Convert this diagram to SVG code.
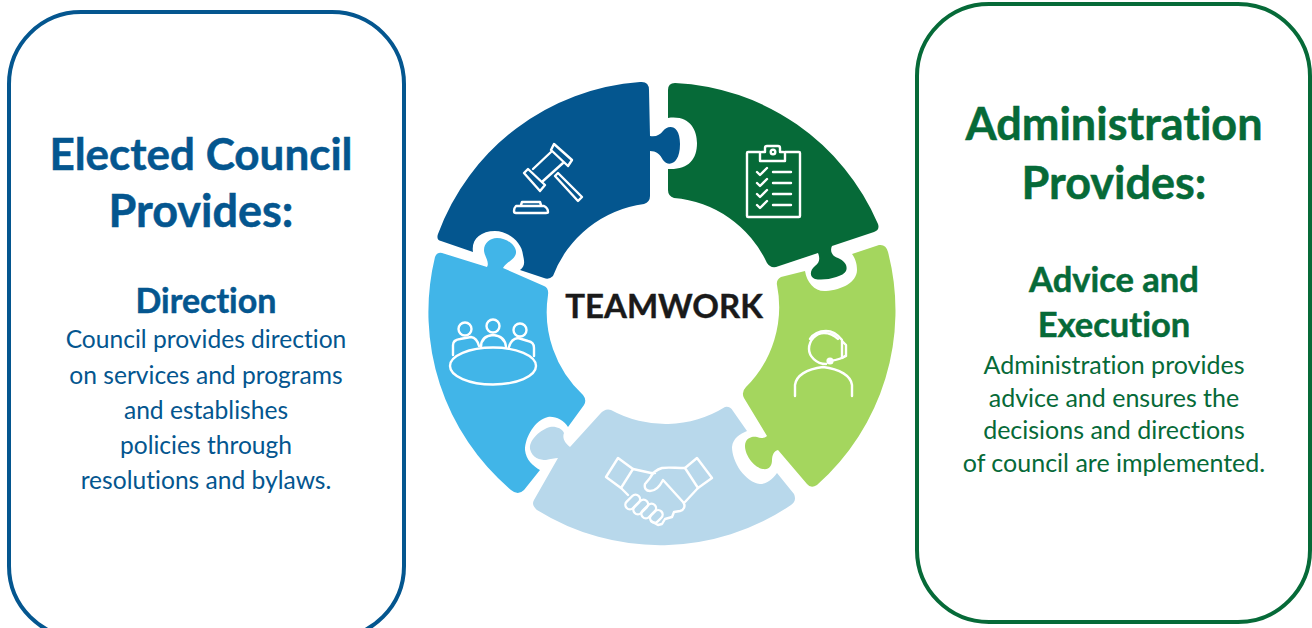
<svg xmlns="http://www.w3.org/2000/svg" width="1312" height="628" viewBox="0 0 1312 628">
<style>
.t{font-family:"Lato","Carlito","Liberation Sans",sans-serif;text-anchor:middle;font-variant-ligatures:none}
.b{font-weight:700;stroke-width:.5}
.bl{fill:#04568f}.gr{fill:#066a38}
.b.bl{stroke:#04568f}.b.gr{stroke:#066a38}
.box{fill:#fff;stroke-width:4}
.ic{fill:none;stroke:#fff;stroke-width:2.4;stroke-linejoin:round;stroke-linecap:round}
</style>
<rect width="1312" height="628" fill="#fff"/>
<g id="council">
<rect class="box" x="9" y="12" width="395" height="626" rx="72" stroke="#04568f"/>
<text class="t b bl" x="201" y="170" font-size="44">Elected Council</text>
<text class="t b bl" x="201" y="227" font-size="45">Provides:</text>
<text class="t b bl" x="206" y="313" font-size="34">Direction</text>
<g class="t bl" font-size="24.6">
<text x="206" y="348">Council provides direction</text>
<text x="206" y="384">on services and programs</text>
<text x="206" y="419">and establishes</text>
<text x="206" y="454">policies through</text>
<text x="206" y="489">resolutions and bylaws.</text>
</g>
</g>
<g id="administration">
<rect class="box" x="917" y="4" width="393" height="618" rx="72" stroke="#066a38"/>
<text class="t b gr" x="1114" y="140" font-size="45">Administration</text>
<text class="t b gr" x="1114" y="199" font-size="45">Provides:</text>
<text class="t b gr" x="1114" y="292" font-size="34.5">Advice and</text>
<text class="t b gr" x="1114" y="337" font-size="34.5">Execution</text>
<g class="t gr" font-size="25">
<text x="1114" y="374">Administration provides</text>
<text x="1114" y="407">advice and ensures the</text>
<text x="1114" y="439">decisions and directions</text>
<text x="1114" y="472">of council are implemented.</text>
</g>
</g>
<g id="piece-council">
<path fill="#04568f" d="M640 82Q649 81 649 90L650 136C656 137 660 135 663 131C667 125 680 123 680 144C680 165 668 167 663 160C660 154 656 151 650 151L650 196Q650 202 644 204A113 113 0 0 0 553 276Q549 280 544 278L520 270C526 266 524 260 523 255C522 242 508 231 495 231C480 231 471 240 473 252L441 241Q436 240 438 234A233 233 0 0 1 640 82Z"/>
<g class="ic">
<path d="M551 150L554 144L572 160L568 166ZM524 173L528 169L545 185L540 191ZM533 169L551 152M543 181L563 163"/>
<path d="M555 176L558 173L582 197L578 201Z"/>
<path d="M521 205L522 202H540L541 205M516 206H544Q548 208 548 212Q548 213 546 213H516Q514 213 514 211Q514 208 516 206Z"/>
</g>
</g>
<g id="piece-plan">
<path fill="#066a38" d="M668 90Q668 83 675 83A233 233 0 0 1 878 224Q880 230 874 232L832 246C830 250 831 256 838 258C845 261 848 266 846 271C843 277 825 281 815 279C809 277 810 270 815 266C820 262 820 258 818 253L776 267Q770 268 767 263A113 113 0 0 0 674 198Q668 196 668 190L668 169C688 170 697 160 697 143C697 130 690 115 668 118Z"/>
<g class="ic">
<path d="M760 152H748Q747 152 747 153V216Q747 217 748 217H799Q800 217 800 216V153Q800 152 799 152H785"/>
<path d="M760 161V153Q760 152 762 152H765V148Q765 146 767 146H778Q780 146 780 148V152H783Q785 152 785 153V161Z"/>
<circle cx="773" cy="152" r="2.3"/>
<path d="M757 172L760 175L767 168M757 183L760 186L767 179M757 194L760 197L767 190M757 205L760 208L767 201"/>
<path d="M773 172H791M773 183H791M773 194H791M773 205H791"/>
</g>
</g>
<g id="piece-support">
<path fill="#a4d65e" d="M879 245Q886 244 888 252A233 233 0 0 1 817 485Q811 489 807 484L778 450C774 451 772 455 772 460C772 466 769 470 763 469C755 468 745 456 745 446C745 438 752 436 757 437C761 439 765 438 767 436L744 398Q741 392 746 387A113 113 0 0 0 777 285Q776 280 781 277L805 271C807 283 815 292 826 291C842 290 857 282 857 270C857 263 855 258 852 254Z"/>
<g class="ic">
<path d="M826 364C816 364 809 356 809 349C809 340 816 333 824 333C830 333 834 335 838 339"/>
<path d="M810 339C814 333 820 331 826 331C833 331 838 335 842 340"/>
<path d="M842 341L846 345V356L842 358Z"/>
<path d="M845 356C842 359 836 360 830 361"/>
<circle cx="830" cy="361" r="2.4" fill="#fff"/>
<path d="M795 396V385C796 376 806 369 823 367C840 369 851 376 852 385V396"/>
</g>
</g>
<g id="piece-partnership">
<path fill="#b8d8eb" d="M600 414Q605 408 611 410A113 113 0 0 0 725 407Q730 406 733 411L747 431C740 434 733 438 732 447C732 462 745 482 760 484C766 484 772 480 777 473L794 494Q797 501 791 505A233 233 0 0 1 537 510Q531 505 534 500L558 458C555 458 550 459 546 460C540 460 532 458 530 449C529 440 540 430 550 427C555 426 562 428 564 433C562 438 565 443 570 447Z"/>
<g class="ic">
<path d="M618 458L633 469L621 488L606 477Z"/>
<path d="M697 458L712 478L698 488L685 468Z"/>
<path d="M633 469L651 473L655 473M685 468C675 468 668 467 662 468C655 470 652 474 650 478L645 484C644 488 646 491 650 491C656 491 660 486 663 480L683 502C686 506 684 510 680 511L674 512L672 517L665 519L662 524L658 525L651 521"/>
<path d="M621 488L628 495M698 488L685 502"/>
<rect x="624" y="498" width="17" height="9" rx="4.5" transform="rotate(-45 632 502)"/>
<rect x="632" y="503" width="17" height="9" rx="4.5" transform="rotate(-45 640 507)"/>
<rect x="640" y="507" width="17" height="9" rx="4.5" transform="rotate(-45 648 511)"/>
<rect x="649" y="512" width="14" height="9" rx="4.5" transform="rotate(-45 656 516)"/>
</g>
</g>
<g id="piece-meeting">
<path fill="#41b5e8" d="M435 257Q437 252 442 253L487 267C490 262 484 256 484 250C484 243 490 238 497 238C507 238 517 246 516 253C515 260 506 262 503 268L544 286Q549 288 548 295A113 113 0 0 0 583 395Q587 400 584 405L568 427C564 420 555 416 548 417C535 420 525 437 525 450C526 460 533 466 540 470L524 490Q518 496 511 490A233 233 0 0 1 435 257Z"/>
<g class="ic">
<ellipse cx="493" cy="366" rx="43" ry="18.5"/>
<circle cx="465" cy="329" r="6.5"/><circle cx="493" cy="326" r="6.5"/><circle cx="520" cy="330" r="6.5"/>
<path d="M453 355V345Q453 340 460 339L471 337Q477 338 479 346"/>
<path d="M481 347Q481 336 493 335Q505 336 506 347"/>
<path d="M509 347Q511 339 518 338L528 341Q534 342 534 348V356"/>
</g>
</g>
<g id="center">
<text class="t" x="664" y="318" font-weight="700" font-size="33" fill="#1a1a1a" stroke="#1a1a1a" stroke-width=".4">TEAMWORK</text>
</g>
</svg>
